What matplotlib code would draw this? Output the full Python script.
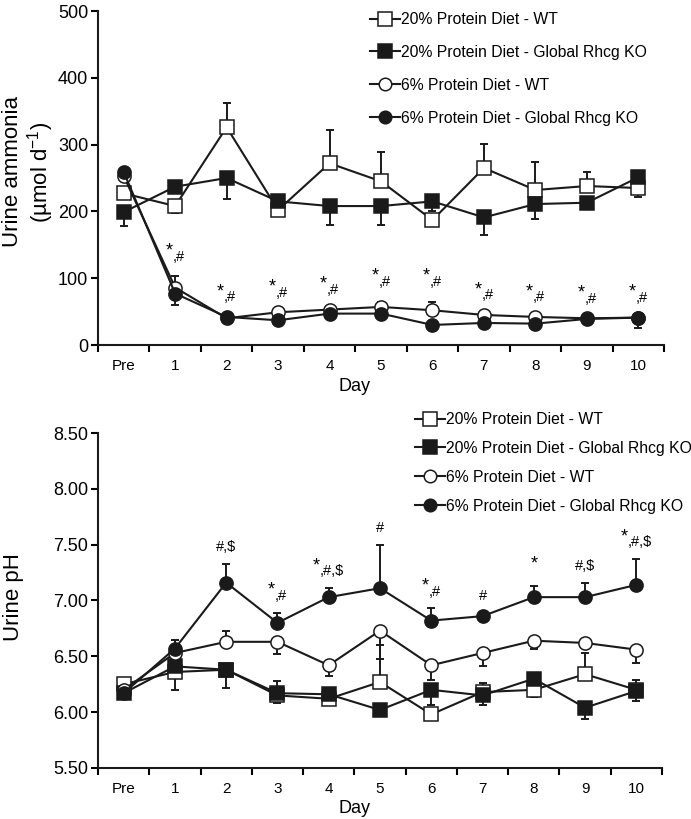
import matplotlib
matplotlib.use("Agg")
import matplotlib.pyplot as plt
import numpy as np

plt.rcParams['font.family'] = ['Liberation Sans', 'DejaVu Sans']
plt.rcParams['mathtext.fontset'] = 'custom'
plt.rcParams['mathtext.rm'] = 'Liberation Sans'

days = ['Pre', '1', '2', '3', '4', '5', '6', '7', '8', '9', '10']
labels = ['20% Protein Diet - WT', '20% Protein Diet - Global Rhcg KO',
          '6% Protein Diet - WT', '6% Protein Diet - Global Rhcg KO']

# ---- Urine ammonia (umol/d) ----
nh3_wt20 = [227, 208, 326, 202, 272, 245, 187, 265, 232, 238, 235]
nh3_wt20_lo = [0, 10, 0, 0, 0, 0, 0, 0, 0, 0, 13]
nh3_wt20_hi = [0, 0, 36, 0, 50, 44, 0, 36, 42, 21, 0]
nh3_ko20 = [199, 237, 250, 215, 208, 208, 215, 191, 211, 213, 251]
nh3_ko20_lo = [21, 0, 32, 0, 28, 28, 15, 26, 23, 8, 0]
nh3_ko20_hi = [0, 0, 0, 0, 0, 0, 0, 0, 0, 0, 9]
nh3_wt6 = [253, 86, 40, 49, 53, 57, 52, 45, 42, 40, 41]
nh3_wt6_lo = [0, 0, 0, 0, 0, 0, 0, 0, 0, 0, 0]
nh3_wt6_hi = [0, 17, 0, 0, 0, 8, 13, 0, 0, 0, 0]
nh3_ko6 = [259, 77, 42, 37, 47, 47, 30, 33, 32, 39, 41]
nh3_ko6_lo = [0, 17, 0, 0, 8, 0, 0, 0, 0, 0, 16]
nh3_ko6_hi = [0, 0, 0, 0, 0, 0, 0, 0, 0, 0, 0]
nh3_sig = ['', '*,#', '*,#', '*,#', '*,#', '*,#', '*,#', '*,#', '*,#', '*,#', '*,#']

# ---- Urine pH ----
ph_wt20 = [6.25, 6.36, 6.38, 6.15, 6.12, 6.27, 5.98, 6.18, 6.20, 6.34, 6.20]
ph_wt20_lo = [0, 0.16, 0, 0, 0, 0, 0, 0, 0.06, 0, 0]
ph_wt20_hi = [0, 0, 0, 0, 0, 0.33, 0, 0.08, 0, 0.19, 0]
ph_ko20 = [6.17, 6.41, 6.38, 6.17, 6.16, 6.02, 6.20, 6.15, 6.30, 6.04, 6.19]
ph_ko20_lo = [0, 0, 0.16, 0.09, 0, 0, 0.14, 0.09, 0, 0.10, 0.09]
ph_ko20_hi = [0, 0, 0, 0.11, 0, 0, 0, 0, 0, 0, 0.10]
ph_wt6 = [6.20, 6.53, 6.63, 6.63, 6.42, 6.73, 6.42, 6.53, 6.64, 6.62, 6.56]
ph_wt6_lo = [0, 0, 0, 0.11, 0.10, 0.25, 0.13, 0.12, 0.07, 0, 0.12]
ph_wt6_hi = [0, 0, 0.10, 0, 0, 0, 0, 0, 0, 0, 0]
ph_ko6 = [6.17, 6.57, 7.16, 6.80, 7.03, 7.11, 6.82, 6.86, 7.03, 7.03, 7.14]
ph_ko6_lo = [0, 0, 0, 0, 0, 0, 0, 0, 0, 0, 0]
ph_ko6_hi = [0, 0.08, 0.17, 0.09, 0.08, 0.39, 0.11, 0.03, 0.10, 0.13, 0.23]
ph_sig = ['', '', '#,$', '*,#', '*,#,$', '#', '*,#', '#', '*', '#,$', '*,#,$']

styles = [dict(marker='s', mfc='white', ms=10),
          dict(marker='s', mfc='#1a1a1a', ms=10),
          dict(marker='o', mfc='white', ms=9.5),
          dict(marker='o', mfc='#1a1a1a', ms=9.5)]

fig = plt.figure(figsize=(6.91, 8.19), dpi=100)
W, H = 691, 819
ax1 = fig.add_axes([98 / W, 1 - 345 / H, 566 / W, 334 / H])
ax2 = fig.add_axes([98 / W, 1 - 768 / H, 564 / W, 335 / H])

x = np.arange(len(days))


def draw(ax, series):
    handles = []
    for (vals, lo, hi), st in zip(series, styles):
        ax.errorbar(x, vals, yerr=[lo, hi], fmt='none', ecolor='#1a1a1a',
                    elinewidth=1.4, capsize=3, capthick=1.4, zorder=2)
        ln, = ax.plot(x, vals, color='#1a1a1a', lw=1.5, marker=st['marker'],
                      ms=st['ms'], mfc=st['mfc'], mec='#1a1a1a', mew=1.1, zorder=3)
        handles.append(ln)
    return handles


def style_axes(ax, ylim, yticks, fmt, xlab_y):
    ax.set_xlim(-0.5, len(days) - 0.5)
    ax.set_ylim(*ylim)
    ax.set_yticks(yticks)
    ax.set_yticklabels([fmt.format(v) for v in yticks], fontsize=13)
    ax.set_xticks(np.arange(-0.5, len(days)), minor=False)
    ax.set_xticklabels([])
    ax.set_xticks(x, minor=True)
    ax.set_xticklabels(days, minor=True, fontsize=11)
    ax.tick_params(axis='x', which='minor', length=0, pad=10)
    ax.tick_params(axis='x', which='major', direction='out', length=5, width=1.5)
    ax.tick_params(axis='y', direction='out', length=5, width=1.5, pad=2)
    for s in ['top', 'right']:
        ax.spines[s].set_visible(False)
    for s in ['left', 'bottom']:
        ax.spines[s].set_linewidth(1.5)
        ax.spines[s].set_color('#1a1a1a')
    ax.set_xlabel('Day', fontsize=13)
    ax.xaxis.set_label_coords(0.454, xlab_y)


def annotate_sig(ax, xs, ys, sigs, dy):
    em_w = {',': 0.278, '#': 0.556, '$': 0.556}
    for xi, yi, s in zip(xs, ys, sigs):
        if not s:
            continue
        if s.startswith('*'):
            rest = s[1:]
            star_w = 0.389 * 13
            rest_w = sum(em_w[c] for c in rest) * 10.5
            total = star_w + rest_w
            ax.annotate('*', (xi, yi), xytext=(-total / 2, dy + 3), textcoords='offset points',
                        ha='left', va='bottom', fontsize=13)
            if rest:
                ax.annotate(rest, (xi, yi), xytext=(-total / 2 + star_w, dy),
                            textcoords='offset points', ha='left', va='bottom', fontsize=10.5)
        else:
            ax.annotate(s, (xi, yi), xytext=(0, dy), textcoords='offset points',
                        ha='center', va='bottom', fontsize=10.5)


# Top panel
h1 = draw(ax1, [(nh3_wt20, nh3_wt20_lo, nh3_wt20_hi),
                (nh3_ko20, nh3_ko20_lo, nh3_ko20_hi),
                (nh3_wt6, nh3_wt6_lo, nh3_wt6_hi),
                (nh3_ko6, nh3_ko6_lo, nh3_ko6_hi)])
style_axes(ax1, (0, 500), [0, 100, 200, 300, 400, 500], '{:.0f}', -0.099)
ax1.set_ylabel('Urine ammonia\n(µmol d$^{-1}$)', fontsize=16, linespacing=1.1)
ax1.yaxis.set_label_coords(-0.074, 0.518)
top_low = np.maximum(np.array(nh3_wt6) + np.array(nh3_wt6_hi),
                     np.array(nh3_ko6) + np.array(nh3_ko6_hi))
annotate_sig(ax1, x, top_low, nh3_sig, 9)

# Bottom panel
h2 = draw(ax2, [(ph_wt20, ph_wt20_lo, ph_wt20_hi),
                (ph_ko20, ph_ko20_lo, ph_ko20_hi),
                (ph_wt6, ph_wt6_lo, ph_wt6_hi),
                (ph_ko6, ph_ko6_lo, ph_ko6_hi)])
style_axes(ax2, (5.5, 8.5), [5.5, 6.0, 6.5, 7.0, 7.5, 8.0, 8.5], '{:.2f}', -0.096)
ax2.set_ylabel('Urine pH', fontsize=16)
ax2.yaxis.set_label_coords(-0.132, 0.51)
bot_top = np.array(ph_ko6) + np.array(ph_ko6_hi)
annotate_sig(ax2, x, bot_top, ph_sig, 7)

fig.legend(h1, labels, loc='upper left', bbox_to_anchor=(370 / W, 1 - 12 / H),
           frameon=False, fontsize=11.3, handlelength=1.9, handletextpad=0.1,
           labelspacing=1.14, borderpad=0, borderaxespad=0, markerscale=0.95)
fig.legend(h2, labels, loc='upper left', bbox_to_anchor=(415 / W, 1 - 412 / H),
           frameon=False, fontsize=11.3, handlelength=1.9, handletextpad=0.1,
           labelspacing=0.89, borderpad=0, borderaxespad=0, markerscale=0.95)

fig.savefig('out.png', dpi=100)
